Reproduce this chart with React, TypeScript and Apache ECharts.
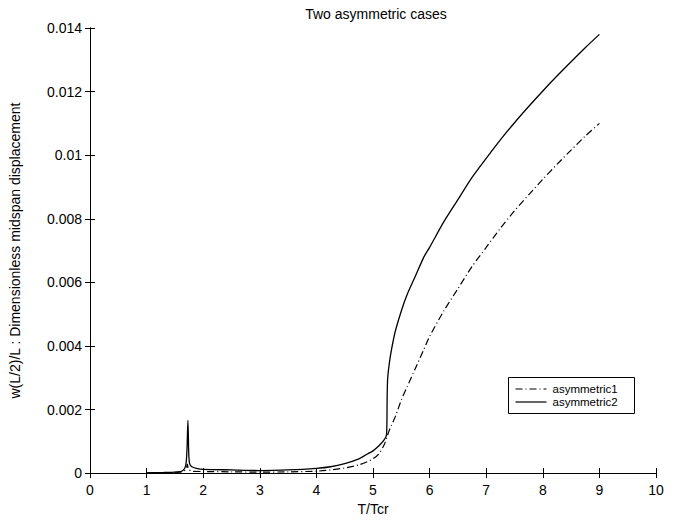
import React, { useEffect, useRef } from "react";
import * as echarts from "echarts";

// asymmetric1 (dash-dot curve)
const t1: number[] = [1.0, 1.5, 1.65, 1.7, 1.72, 1.74, 1.8, 2.0, 2.5, 3.0, 3.5, 4.0, 4.25, 4.5, 4.75, 4.9, 5.0, 5.1, 5.2, 5.25, 5.3, 5.4, 5.5, 5.6, 5.75, 5.9, 6.0, 6.25, 6.5, 6.75, 7.0, 7.25, 7.5, 7.75, 8.0, 8.25, 8.5, 8.75, 9.0];
const w1: number[] = [0.00001, 0.00002, 0.00005, 0.00015, 0.00028, 0.00012, 0.00006, 0.00005, 0.00004, 0.00003, 0.00004, 0.00006, 0.0001, 0.00016, 0.00026, 0.00036, 0.00045, 0.0006, 0.0009, 0.00115, 0.0014, 0.0018, 0.0023, 0.0027, 0.0033, 0.0039, 0.0043, 0.0051, 0.0058, 0.0065, 0.0071, 0.0077, 0.00825, 0.00875, 0.00924, 0.00971, 0.01016, 0.0106, 0.011];

// asymmetric2 (solid curve)
const t2: number[] = [1.0, 1.3, 1.5, 1.6, 1.65, 1.68, 1.7, 1.715, 1.73, 1.745, 1.76, 1.8, 1.9, 2.0, 2.5, 3.0, 3.5, 4.0, 4.25, 4.5, 4.75, 4.9, 5.0, 5.1, 5.2, 5.24, 5.25, 5.26, 5.3, 5.35, 5.4, 5.5, 5.6, 5.75, 5.9, 6.0, 6.25, 6.5, 6.75, 7.0, 7.25, 7.5, 7.75, 8.0, 8.25, 8.5, 8.75, 9.0];
const w2: number[] = [0.00001, 0.00002, 0.00003, 0.00005, 0.0001, 0.00018, 0.00035, 0.0008, 0.00166, 0.0006, 0.0003, 0.0002, 0.00014, 0.00012, 0.0001, 0.00008, 0.0001, 0.00015, 0.0002, 0.0003, 0.00045, 0.0006, 0.0007, 0.00085, 0.00105, 0.00122, 0.0024, 0.003, 0.0036, 0.0041, 0.0045, 0.0051, 0.0056, 0.0062, 0.0068, 0.0071, 0.0079, 0.0086, 0.0093, 0.0099, 0.01048, 0.01102, 0.01153, 0.01202, 0.01249, 0.01294, 0.01338, 0.0138];

const seriesNames: string[] = ["asymmetric1", "asymmetric2"];
const titleText = "Two asymmetric cases";
const xName = "T/Tcr";
const yName = "w(L/2)/L : Dimensionless midspan displacement";

const FONT = "'Liberation Sans', Arial, Helvetica, sans-serif";
const DASH_DOT = [7, 3, 1, 3];

const fmtY = (v: number) => (v === 0 ? "0" : String(+v.toFixed(3)));

export default function App() {
  const ref = useRef<HTMLDivElement>(null);

  useEffect(() => {
    document.body.style.margin = "0";
    const chart = echarts.init(ref.current!, null, { renderer: "svg" });
    const axisLine = { show: true, lineStyle: { color: "#000", width: 1 } };
    const tickIn = { show: true, inside: true, length: 5, lineStyle: { color: "#000", width: 1 } };
    const labelStyle = { color: "#000", fontFamily: FONT, fontSize: 14 };

    // boxed legend in the lower right of the plot
    const legendGraphic = {
      type: "group",
      left: 508,
      top: 377,
      children: [
        {
          type: "rect",
          shape: { x: 0, y: 0, width: 126, height: 36 },
          style: { fill: "#fff", stroke: "#000", lineWidth: 1 },
        },
        {
          type: "line",
          shape: { x1: 7, y1: 11.5, x2: 38, y2: 11.5 },
          style: { stroke: "#000", lineWidth: 1.2, lineDash: DASH_DOT },
        },
        {
          type: "text",
          x: 44,
          y: 11.5,
          style: { text: seriesNames[0], fill: "#000", font: `11.5px ${FONT}`, textVerticalAlign: "middle" },
        },
        {
          type: "line",
          shape: { x1: 7, y1: 24.5, x2: 38, y2: 24.5 },
          style: { stroke: "#000", lineWidth: 1.2 },
        },
        {
          type: "text",
          x: 44,
          y: 24.5,
          style: { text: seriesNames[1], fill: "#000", font: `11.5px ${FONT}`, textVerticalAlign: "middle" },
        },
      ],
    };

    chart.setOption({
      animation: false,
      backgroundColor: "#fff",
      title: {
        text: titleText,
        left: 371,
        top: 2,
        textAlign: "center",
        textStyle: { color: "#000", fontFamily: FONT, fontSize: 14, fontWeight: "normal" },
      },
      grid: { left: 87, right: 20, top: 28, bottom: 45 },
      xAxis: [
        {
          type: "value",
          min: 0,
          max: 10,
          interval: 1,
          name: xName,
          nameLocation: "middle",
          nameGap: 27,
          nameTextStyle: labelStyle,
          axisLine,
          axisTick: tickIn,
          axisLabel: { ...labelStyle, margin: 10 },
          splitLine: { show: false },
        },
        {
          type: "value",
          position: "top",
          min: 0,
          max: 10,
          interval: 1,
          axisLine,
          axisTick: tickIn,
          axisLabel: { show: false },
          splitLine: { show: false },
        },
      ],
      yAxis: [
        {
          type: "value",
          min: 0,
          max: 0.014,
          interval: 0.002,
          name: yName,
          nameLocation: "middle",
          nameGap: 68,
          nameTextStyle: labelStyle,
          axisLine,
          axisTick: tickIn,
          axisLabel: { ...labelStyle, margin: 8, formatter: fmtY },
          splitLine: { show: false },
        },
        {
          type: "value",
          position: "right",
          min: 0,
          max: 0.014,
          interval: 0.002,
          axisLine,
          axisTick: tickIn,
          axisLabel: { show: false },
          splitLine: { show: false },
        },
      ],
      series: [
        {
          name: seriesNames[0],
          type: "line",
          data: t1.map((t, i) => [t, w1[i]]),
          symbol: "none",
          smooth: 0.25,
          color: "#000",
          lineStyle: { color: "#000", width: 1.2, type: DASH_DOT },
          z: 2,
        },
        {
          name: seriesNames[1],
          type: "line",
          data: t2.map((t, i) => [t, w2[i]]),
          symbol: "none",
          smooth: 0.25,
          color: "#000",
          lineStyle: { color: "#000", width: 1.3, type: "solid" },
          z: 3,
        },
      ],
      graphic: [legendGraphic],
    });
    return () => chart.dispose();
  }, []);

  return <div ref={ref} style={{ position: "absolute", left: 0, top: 0, width: 676, height: 521 }} />;
}
